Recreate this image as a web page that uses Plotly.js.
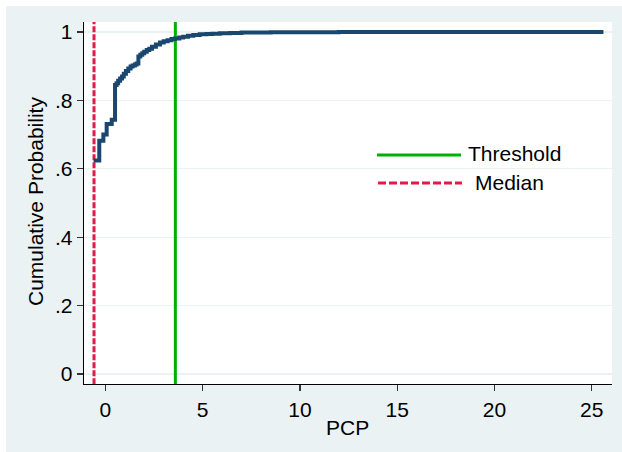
<!DOCTYPE html>
<html>
<head>
<meta charset="utf-8">
<script src="https://cdn.plot.ly/plotly-3.0.1.min.js"></script>
<style>html,body{margin:0;padding:0;background:#fff;}#chart{width:622px;height:452px;}</style>
</head>
<body>
<div id="chart"></div>
<script>
var pcp = [-0.6, -0.31, -0.1, 0.07, 0.33, 0.5, 0.58, 0.66, 0.76, 0.86, 0.95, 1.06, 1.18, 1.3, 1.4, 1.52, 1.61, 1.7, 1.8, 1.9, 2.0, 2.13, 2.26, 2.4, 2.6, 2.81, 3.0, 3.2, 3.4, 3.58, 3.8, 4.0, 4.25, 4.52, 4.85, 5.2, 5.5, 5.89, 6.4, 7.0, 7.7, 8.5, 10.0, 12.0, 14.0, 17.0, 20.0, 25.6];
var cumProb = [0.624, 0.682, 0.700, 0.731, 0.743, 0.845, 0.850, 0.857, 0.864, 0.870, 0.878, 0.886, 0.893, 0.899, 0.902, 0.905, 0.908, 0.928, 0.933, 0.938, 0.942, 0.947, 0.951, 0.957, 0.963, 0.969, 0.973, 0.976, 0.979, 0.981, 0.984, 0.986, 0.989, 0.991, 0.993, 0.994, 0.995, 0.996, 0.997, 0.998, 0.9985, 0.999, 0.9993, 0.9995, 0.9997, 0.9998, 1.0, 1.0];
var thresholdX = 3.6;
var medianX = -0.58;
var yTickVals = [0, 0.2, 0.4, 0.6, 0.8, 1];
var yTickText = ['0', '.2', '.4', '.6', '.8', '1'];
var xTickVals = [0, 5, 10, 15, 20, 25];
var legendLabels = ['Threshold', 'Median'];

var FONT = 'Liberation Sans, Arial, sans-serif';
var NAVY = '#1a476f', GREEN = '#00b000', RED = '#e8174a', BG = '#eaf2f3';

var traces = [
  {x: [thresholdX, thresholdX], y: [-0.03, 1.03], mode: 'lines', line: {color: GREEN, width: 3}, hoverinfo: 'skip'},
  {x: [medianX, medianX], y: [-0.03, 1.03], mode: 'lines', line: {color: RED, width: 3, dash: '6px,2px'}, hoverinfo: 'skip'},
  {x: pcp, y: cumProb, mode: 'lines', line: {color: NAVY, width: 4, shape: 'hv'}}
];

var L = 84, R = 612, T = 22, B = 384, W = 622, H = 452;
var pw = R - L, ph = B - T;
function px(x) { return (x - L) / pw; }
function py(y) { return (B - y) / ph; }

var layout = {
  width: W, height: H,
  margin: {l: L, r: W - R, t: T, b: H - B, pad: 0},
  paper_bgcolor: BG,
  plot_bgcolor: '#ffffff',
  showlegend: false,
  font: {family: FONT, size: 21, color: '#000'},
  xaxis: {
    range: [-1.095, 26.04], tickvals: xTickVals, ticks: 'outside', ticklen: 6, tickwidth: 1.3,
    tickcolor: '#333', showline: true, linecolor: '#000', linewidth: 1.3, showgrid: false,
    zeroline: false, tickfont: {family: FONT, size: 21, color: '#000'}, fixedrange: true
  },
  yaxis: {
    range: [-0.029, 1.029], tickvals: yTickVals, ticktext: yTickText, ticks: 'outside', ticklen: 6, tickwidth: 1.3,
    tickcolor: '#333', showline: true, linecolor: '#000', linewidth: 1.3, showgrid: true, gridcolor: BG, gridwidth: 1.2,
    zeroline: false, tickfont: {family: FONT, size: 21, color: '#000'}, fixedrange: true
  },
  shapes: [
    {type: 'rect', xref: 'paper', yref: 'paper', x0: px(0), x1: px(W), y0: py(0), y1: py(6), fillcolor: '#ffffff', line: {width: 0}, layer: 'below'},
    {type: 'rect', xref: 'paper', yref: 'paper', x0: px(0), x1: px(6), y0: py(H), y1: py(0), fillcolor: '#ffffff', line: {width: 0}, layer: 'below'},
    {type: 'line', xref: 'paper', yref: 'paper', x0: px(377), x1: px(461), y0: py(155), y1: py(155), line: {color: GREEN, width: 3}},
    {type: 'line', xref: 'paper', yref: 'paper', x0: px(378), x1: px(462), y0: py(183), y1: py(183), line: {color: RED, width: 3, dash: '8px,3px'}}
  ],
  annotations: [
    {text: legendLabels[0], xref: 'paper', yref: 'paper', x: px(466), y: py(153), xanchor: 'left', yanchor: 'middle', showarrow: false, font: {family: FONT, size: 21, color: '#000'}},
    {text: legendLabels[1], xref: 'paper', yref: 'paper', x: px(473), y: py(182), xanchor: 'left', yanchor: 'middle', showarrow: false, font: {family: FONT, size: 21, color: '#000'}},
    {text: 'PCP', xref: 'paper', yref: 'paper', x: px(347), y: py(428), xanchor: 'center', yanchor: 'middle', showarrow: false, font: {family: FONT, size: 21, color: '#000'}},
    {text: 'Cumulative Probability', xref: 'paper', yref: 'paper', x: px(36), y: py(202), xanchor: 'center', yanchor: 'middle', textangle: -90, showarrow: false, font: {family: FONT, size: 21, color: '#000'}}
  ]
};

Plotly.newPlot('chart', traces, layout, {displayModeBar: false, staticPlot: true});
</script>
</body>
</html>
